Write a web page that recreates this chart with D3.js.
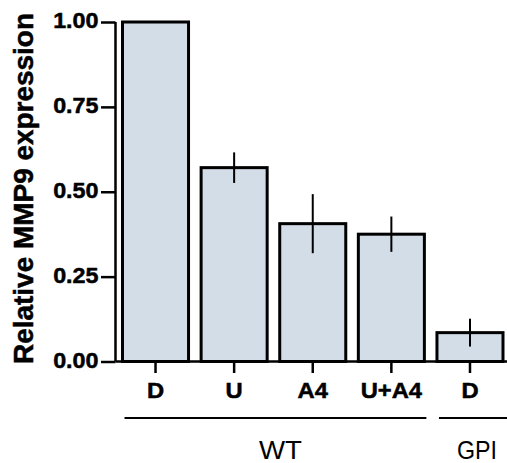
<!DOCTYPE html>
<html>
<head>
<meta charset="utf-8">
<script src="https://cdn.jsdelivr.net/npm/d3@7/dist/d3.min.js"></script>
<style>
html,body{margin:0;padding:0;background:#fff;}
svg{display:block;}
</style>
</head>
<body>
<svg id="chart" width="507" height="463"></svg>
<script>
const categories = ["D", "U", "A4", "U+A4", "D"];
const keys = ["WT-D", "WT-U", "WT-A4", "WT-U+A4", "GPI-D"];
const values = [1.00, 0.571, 0.406, 0.375, 0.085];
const errors = [0, 0.045, 0.087, 0.052, 0.041];
const groups = [
  {name: "WT", from: 0, to: 3},
  {name: "GPI", from: 4, to: 4}
];
const yTicks = [0, 0.25, 0.5, 0.75, 1.0];
const yTickLabels = ["0.00", "0.25", "0.50", "0.75", "1.00"];
const yLabel = "Relative MMP9 expression";

const svg = d3.select("#chart");
const font = "'Liberation Sans', Arial, Helvetica, sans-serif";

const x = d3.scaleBand().domain(keys).range([122.5, 503]).paddingInner(0.16).paddingOuter(0);
const y = d3.scaleLinear().domain([0, 1]).range([361.5, 22]);
const axisX0 = 115.5;

// Bars
svg.append("g").selectAll("rect").data(keys).join("rect")
  .attr("x", d => x(d))
  .attr("y", (d, i) => y(values[i]))
  .attr("width", x.bandwidth())
  .attr("height", (d, i) => y(0) - y(values[i]))
  .attr("fill", "#d3dde8")
  .attr("stroke", "#000")
  .attr("stroke-width", 3);

// Error bars
svg.append("g").selectAll("line").data(keys.filter((d, i) => errors[i] > 0)).join("line")
  .attr("x1", d => x(d) + x.bandwidth() / 2)
  .attr("x2", d => x(d) + x.bandwidth() / 2)
  .attr("y1", d => y(values[keys.indexOf(d)] + errors[keys.indexOf(d)]))
  .attr("y2", d => y(values[keys.indexOf(d)] - errors[keys.indexOf(d)]))
  .attr("stroke", "#000")
  .attr("stroke-width", 2);

// Y axis
const yAxis = d3.axisLeft(y).tickValues(yTicks)
  .tickFormat((d, i) => yTickLabels[i]).tickSize(14.5).tickPadding(2.5);
const gy = svg.append("g").attr("transform", `translate(${axisX0},0)`).call(yAxis);
gy.select(".domain").attr("d", `M0,${y(1)}V${y(0)}`).attr("stroke-width", 2.5);
gy.selectAll(".tick line").attr("stroke-width", 2.5);
gy.selectAll(".tick text")
  .attr("font-family", font).attr("font-weight", "bold").attr("font-size", 22)
  .attr("fill", "#000").attr("stroke", "#000").attr("stroke-width", 0.5)
  .attr("x", null).attr("dy", "0.27em")
  .attr("transform", "translate(-17,0) scale(1.06,1)");

// X axis
const xAxis = d3.axisBottom(x).tickFormat((d, i) => categories[i]).tickSize(11.5).tickPadding(9);
const gx = svg.append("g").attr("transform", `translate(0,${y(0)})`).call(xAxis);
gx.select(".domain").attr("d", `M${axisX0},0H507`).attr("stroke-width", 2.5);
gx.selectAll(".tick line").attr("stroke-width", 2.5);
gx.selectAll(".tick text")
  .attr("font-family", font).attr("font-weight", "bold").attr("font-size", 22)
  .attr("fill", "#000").attr("stroke", "#000").attr("stroke-width", 0.5)
  .attr("y", null).attr("dy", null)
  .attr("transform", "translate(0,36) scale(1.08,1)");

// Group lines and labels
const groupLabelWidths = {WT: 43, GPI: 40};
groups.forEach(g => {
  const x1 = x(keys[g.from]) + 2;
  const x2 = g.to === keys.length - 1 ? 512 : x(keys[g.to]) + x.bandwidth() + 2;
  svg.append("line")
    .attr("x1", x1).attr("x2", x2)
    .attr("y1", 418).attr("y2", 418)
    .attr("stroke", "#000").attr("stroke-width", 2);
  const cx = (x(keys[g.from]) + x(keys[g.to]) + x.bandwidth()) / 2 + 7;
  svg.append("text")
    .attr("x", cx).attr("y", 458.5)
    .attr("text-anchor", "middle")
    .attr("font-family", font).attr("font-size", 26)
    .attr("textLength", groupLabelWidths[g.name]).attr("lengthAdjust", "spacingAndGlyphs")
    .attr("fill", "#000")
    .text(g.name);
});

// Y label
svg.append("text")
  .attr("transform", `translate(33,188.5) rotate(-90)`)
  .attr("text-anchor", "middle")
  .attr("font-family", font).attr("font-weight", "bold").attr("font-size", 27)
  .attr("textLength", 351).attr("lengthAdjust", "spacingAndGlyphs")
  .attr("fill", "#000").attr("stroke", "#000").attr("stroke-width", 0.5)
  .text(yLabel);
</script>
</body>
</html>
